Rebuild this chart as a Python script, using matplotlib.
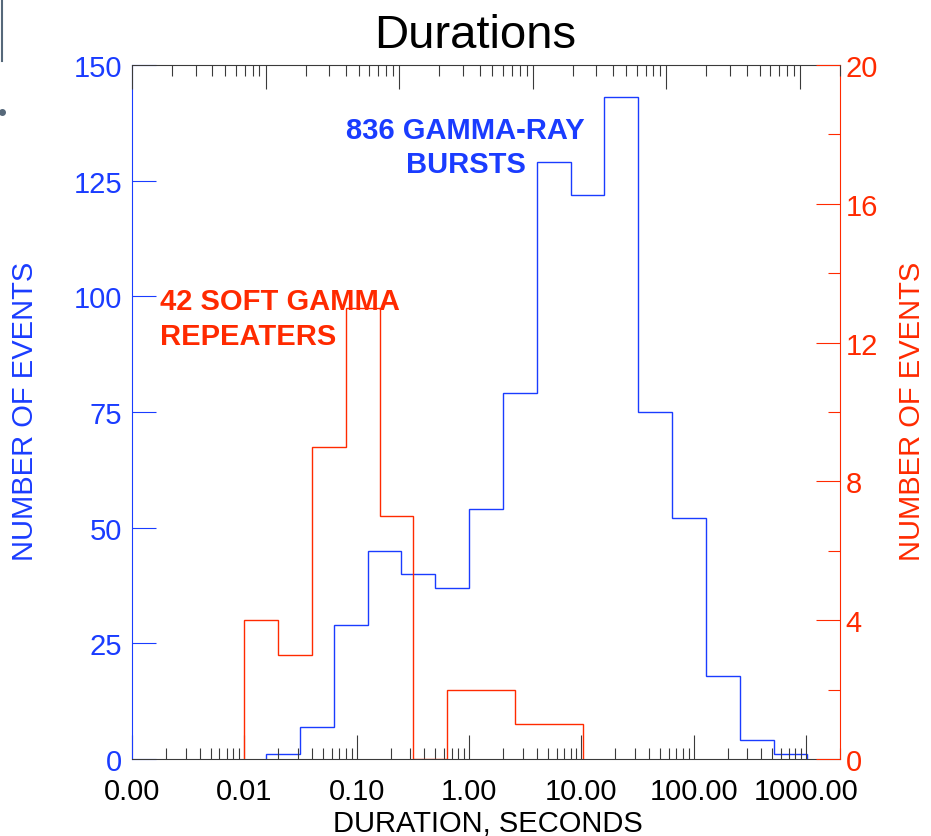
import numpy as np
import matplotlib
matplotlib.use("Agg")
import matplotlib.pyplot as plt
from matplotlib.ticker import LogLocator, FormatStrFormatter, MultipleLocator, NullFormatter
from matplotlib.lines import Line2D

plt.rcParams['font.family'] = 'Liberation Sans'

# duration bins in seconds: bursts binned in powers of two, repeaters doubling from 0.01 s
grb_edges = 2.0 ** np.arange(-6, 11)
grb_counts = [1, 7, 29, 45, 40, 37, 54, 79, 129, 122, 143, 75, 52, 18, 4, 1]
sgr_edges = 0.01 * 2.0 ** np.arange(0, 11)
sgr_counts = [4, 3, 9, 13, 7, 0, 2, 2, 1, 1]

x_ticks = [0.001, 0.01, 0.1, 1, 10, 100, 1000]
left_ticks = [0, 25, 50, 75, 100, 125, 150]
right_ticks = [0, 4, 8, 12, 16, 20]

BLUE = '#1a3cff'
RED = '#ff2a00'
AXC = '#3a3a3a'
W, H = 931, 837

fig = plt.figure(figsize=(W / 100, H / 100), dpi=100)
rect = [132 / W, 77 / H, 708 / W, 694 / H]
ax = fig.add_axes(rect)
ax2 = ax.twinx()

ax.stairs(grb_counts, grb_edges, color=BLUE, lw=1.0, baseline=0)
ax2.stairs(sgr_counts, sgr_edges, color=RED, lw=1.0, baseline=0)

ax.set_xscale('log')
ax.set_xlim(0.001, 2000)
ax.set_ylim(0, 150)
ax2.set_ylim(0, 20)

# bottom axis
ax.set_xticks(x_ticks)
ax.xaxis.set_major_formatter(FormatStrFormatter('%.2f'))
ax.xaxis.set_minor_locator(LogLocator(base=10, subs=np.arange(2, 10), numticks=30))
ax.xaxis.set_minor_formatter(NullFormatter())
ax.tick_params(axis='x', which='both', direction='in', bottom=True, top=False,
               colors=AXC, labelcolor='black', labelsize=21, pad=13, width=0.8)
ax.tick_params(axis='x', which='major', length=17)
ax.tick_params(axis='x', which='minor', length=8)

# left axis
ax.set_yticks(left_ticks)
ax.tick_params(axis='y', direction='in', length=17, width=0.8, color=BLUE,
               labelcolor=BLUE, labelsize=21, pad=7)

# right axis
ax2.set_yticks(right_ticks)
ax2.yaxis.set_minor_locator(MultipleLocator(2))
ax2.tick_params(axis='y', which='both', direction='in', width=0.8, color=RED,
                labelcolor=RED, labelsize=21, pad=4)
ax2.tick_params(axis='y', which='major', length=17)
ax2.tick_params(axis='y', which='minor', length=8.5)

for s in ['top', 'bottom']:
    ax.spines[s].set_color(AXC)
ax.spines['left'].set_color(BLUE)
ax.spines['right'].set_visible(False)
for s in ['left', 'top', 'bottom']:
    ax2.spines[s].set_visible(False)
ax2.spines['right'].set_color(RED)
for a in (ax, ax2):
    for s in a.spines.values():
        s.set_linewidth(0.8)

# top axis ticks (own log range, unlabeled)
axt = fig.add_axes(rect, frameon=False)
axt.set_xscale('log')
axt.set_xlim(0.01, 2000)
axt.xaxis.tick_top()
axt.xaxis.set_minor_locator(LogLocator(base=10, subs=np.arange(2, 10), numticks=30))
axt.tick_params(axis='x', which='both', direction='in', labeltop=False,
                color=AXC, width=0.8)
axt.tick_params(axis='x', which='major', length=17)
axt.tick_params(axis='x', which='minor', length=8)
axt.yaxis.set_visible(False)

ax.text(0.93, 139, '836 GAMMA-RAY\nBURSTS', color=BLUE, fontsize=21,
        fontweight='bold', ha='center', va='top', multialignment='center',
        linespacing=1.3)
ax.text(0.00178, 102, '42 SOFT GAMMA\nREPEATERS', color=RED, fontsize=21,
        fontweight='bold', ha='left', va='top', linespacing=1.3)

fig.text(475 / W, 1 - 48 / H, 'Durations', fontsize=34, ha='center', va='baseline')
fig.text(488 / W, 1 - 832 / H, 'DURATION, SECONDS', fontsize=21, ha='center',
         va='baseline')
fig.text(25 / W, 1 - 411 / H, 'NUMBER OF EVENTS', rotation=90, color=BLUE,
         fontsize=21, ha='center', va='center')
fig.text(912 / W, 1 - 411 / H, 'NUMBER OF EVENTS', rotation=90, color=RED,
         fontsize=21, ha='center', va='center')

# small frame edge at the upper left
fig.add_artist(Line2D([1.5 / W, 1.5 / W], [1, 1 - 62 / H], color='#56687a',
                      lw=1.5, transform=fig.transFigure))
fig.add_artist(Line2D([2 / W], [1 - 113 / H], marker='o', ms=4, color='#56687a',
                      transform=fig.transFigure))

fig.savefig('out.png', dpi=100)
